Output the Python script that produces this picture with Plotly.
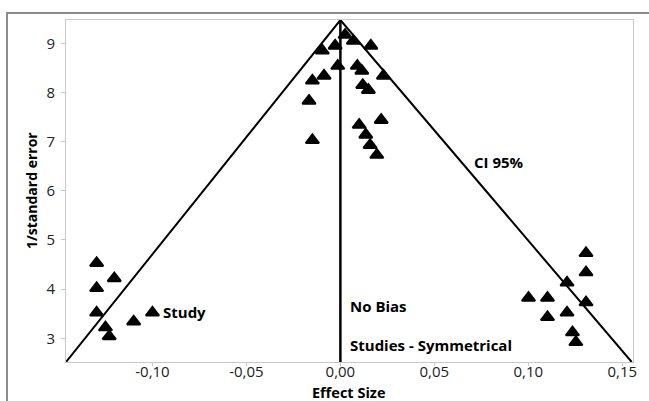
import plotly.graph_objects as go

# Study points (effect size, 1/standard error)
left_x = [-0.1297, -0.1203, -0.1297, -0.1297, -0.125, -0.123, -0.110, -0.100]
left_y = [4.53, 4.22, 4.02, 3.52, 3.22, 3.04, 3.34, 3.52]

center_x = [0.0025, 0.0069, 0.0162, -0.0028, -0.0096, -0.0014, 0.009, 0.0114,
            -0.0087, 0.0229, -0.0149, 0.0119, 0.0149, -0.0167, 0.0217, 0.010,
            0.0135, 0.0158, 0.0194, -0.0149]
center_y = [9.17, 9.05, 8.95, 8.95, 8.85, 8.54, 8.54, 8.44,
            8.34, 8.34, 8.24, 8.15, 8.05, 7.83, 7.44, 7.34,
            7.14, 6.93, 6.73, 7.03]

right_x = [0.1307, 0.1307, 0.1206, 0.1001, 0.1102, 0.1307, 0.1206, 0.1102, 0.1235, 0.1253]
right_y = [4.73, 4.34, 4.13, 3.82, 3.82, 3.73, 3.52, 3.43, 3.12, 2.92]

# Funnel (CI 95%) and no-bias line
ci_x = [-0.146, 0.0, 0.155]
ci_y = [2.518, 9.474, 2.518]
nobias_x = [0.0, 0.0]
nobias_y = [2.518, 9.474]

x_tick_vals = [-0.10, -0.05, 0.00, 0.05, 0.10, 0.15]
x_tick_text = ["-0,10", "-0,05", "0,00", "0,05", "0,10", "0,15"]
y_tick_vals = [3, 4, 5, 6, 7, 8, 9]
y_tick_text = ["3", "4", "5", "6", "7", "8", "9"]

x_range = [-0.146, 0.1557]
y_range = [2.518, 9.474]

FONT = "Open Sans"
W, H = 649, 401
ML, MR, MT, MB = 66, 16, 20, 39
PW, PH = W - ML - MR, H - MT - MB

fig = go.Figure()
fig.add_trace(go.Scatter(x=ci_x, y=ci_y, mode="lines",
                         line=dict(color="black", width=2), hoverinfo="skip"))
fig.add_trace(go.Scatter(x=nobias_x, y=nobias_y, mode="lines",
                         line=dict(color="black", width=2.5), hoverinfo="skip"))
all_x = left_x + center_x + right_x
all_y = left_y + center_y + right_y
fig.add_trace(go.Scatter(x=all_x, y=all_y, mode="markers",
                         marker=dict(symbol="triangle-up", size=11.5, color="black",
                                     line=dict(color="black", width=2))))

labels = [
    dict(text="Study", x=-0.0952, y=3.54),
    dict(text="No Bias", x=0.0043, y=3.65),
    dict(text="Studies - Symmetrical", x=0.0043, y=2.87),
    dict(text="CI 95%", x=0.070, y=6.59),
]
for lb in labels:
    fig.add_annotation(x=lb["x"], y=lb["y"], text="<b>%s</b>" % lb["text"],
                       xref="x", yref="y", xanchor="left", yanchor="middle",
                       showarrow=False, font=dict(family=FONT, size=15, color="black"))

# axis titles
fig.add_annotation(x=(31 - ML) / PW, y=0.5, xref="paper", yref="paper",
                   text="<b>1/standard error</b>", textangle=-90, showarrow=False,
                   xanchor="center", yanchor="middle",
                   font=dict(family=FONT, size=14, color="black"))
fig.add_annotation(x=(348 - ML) / PW, y=(MT + PH - 393) / PH, xref="paper", yref="paper",
                   text="<b>Effect Size</b>", showarrow=False,
                   xanchor="center", yanchor="middle",
                   font=dict(family=FONT, size=14.5, color="black"))

# outer frame
fig.add_shape(type="rect", xref="paper", yref="paper",
              x0=(7 - ML) / PW, y0=-0.3, x1=1.2, y1=1 + (MT - 13) / PH,
              line=dict(color="#8c8c8c", width=2), layer="below")

fig.update_layout(
    width=W, height=H,
    margin=dict(l=ML, r=MR, t=MT, b=MB),
    paper_bgcolor="white", plot_bgcolor="white",
    showlegend=False,
    font=dict(family=FONT, size=15, color="#222222"),
)
fig.update_xaxes(range=x_range, tickvals=x_tick_vals, ticktext=x_tick_text,
                 showgrid=False, zeroline=False, showline=True, mirror=True,
                 linecolor="#c8c8c8", linewidth=1, ticks="outside", ticklen=3,
                 tickcolor="#c8c8c8", ticklabelstandoff=-7,
                 tickfont=dict(family=FONT, size=15, color="#222222"))
fig.update_yaxes(range=y_range, tickvals=y_tick_vals, ticktext=y_tick_text,
                 showgrid=False, zeroline=False, showline=True, mirror=True,
                 linecolor="#c8c8c8", linewidth=1, ticks="outside", ticklen=4,
                 tickcolor="#c8c8c8", ticklabelstandoff=3,
                 tickfont=dict(family=FONT, size=15, color="#222222"))

fig.write_html("out.html", config={"displayModeBar": False},
               post_script="document.body.style.margin='0px';document.body.style.overflow='hidden';")
